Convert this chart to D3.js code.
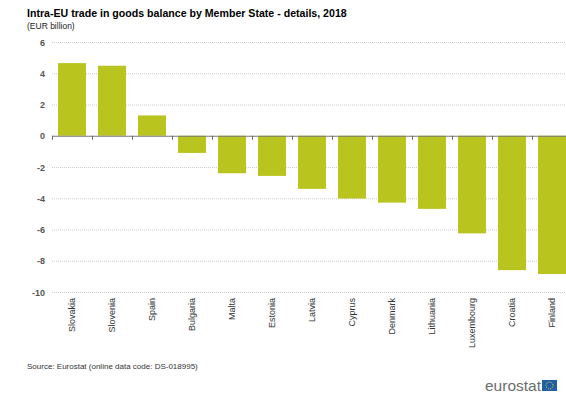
<!DOCTYPE html>
<html>
  <head>
    <meta charset="utf-8">
    <title>Intra-EU trade balance</title>
    <style>
      body { margin: 0; background: #fff; }
      svg { font-family: Arial, "Liberation Sans", sans-serif; display: block; }
    </style>
  </head>
  <body>
    <div id="chart"></div>
    <script src="https://cdn.jsdelivr.net/npm/d3@7"></script>
    <script>
      (function(d3) {
        'use strict';
        var countries = ['Slovakia', 'Slovenia', 'Spain', 'Bulgaria', 'Malta', 'Estonia', 'Latvia',
          'Cyprus', 'Denmark', 'Lithuania', 'Luxembourg', 'Croatia', 'Finland'];
        var balance = [4.65, 4.48, 1.3, -1.1, -2.4, -2.57, -3.4, -4.02, -4.28, -4.68, -6.25, -8.6, -8.85];
        var yTicks = [6, 4, 2, 0, -2, -4, -6, -8, -10];

        var width = 566, height = 395;
        var svg = d3.select('#chart').append('svg')
          .attr('width', width).attr('height', height);

        var x = d3.scaleBand().domain(countries).range([52, 572]).paddingInner(0.3).paddingOuter(0.15);
        var y = d3.scaleLinear().domain([-10, 6]).range([292, 42]);

        svg.append('text').attr('x', 27).attr('y', 17)
          .attr('font-size', 10.6).attr('font-weight', 'bold').attr('fill', '#000')
          .text('Intra-EU trade in goods balance by Member State - details, 2018');
        svg.append('text').attr('x', 27).attr('y', 28.5)
          .attr('font-size', 8.5).attr('fill', '#222')
          .text('(EUR billion)');

        // grid lines
        svg.selectAll('line.grid').data(yTicks.filter(function(d) { return d !== 0; }))
          .enter().append('line').attr('class', 'grid')
          .attr('x1', 52).attr('x2', 566)
          .attr('y1', function(d) { return y(d) + 0.5; })
          .attr('y2', function(d) { return y(d) + 0.5; })
          .attr('stroke', '#ccc').attr('stroke-dasharray', '1,1');

        svg.selectAll('text.ytick').data(yTicks).enter().append('text')
          .attr('class', 'ytick')
          .attr('x', 45).attr('y', function(d) { return y(d) + 3.5; })
          .attr('text-anchor', 'end').attr('font-size', 9).attr('font-weight', 'bold').attr('fill', '#555')
          .text(function(d) { return d; });

        svg.selectAll('rect.bar').data(balance).enter().append('rect')
          .attr('class', 'bar')
          .attr('x', function(d, i) { return x(countries[i]); })
          .attr('width', x.bandwidth())
          .attr('y', function(d) { return y(Math.max(0, d)); })
          .attr('height', function(d) { return Math.abs(y(d) - y(0)); })
          .attr('fill', '#b9c41f');

        // zero line and ticks
        svg.append('line').attr('x1', 52).attr('x2', 566)
          .attr('y1', y(0) + 0.5).attr('y2', y(0) + 0.5)
          .attr('stroke', '#777').attr('stroke-width', 1);
        var step = x.step();
        svg.selectAll('line.xtick').data(d3.range(countries.length + 1)).enter().append('line')
          .attr('class', 'xtick')
          .attr('x1', function(i) { return 52 + i * step + 0.5; })
          .attr('x2', function(i) { return 52 + i * step + 0.5; })
          .attr('y1', y(0)).attr('y2', y(0) + 4)
          .attr('stroke', '#666');

        svg.selectAll('text.xlab').data(countries).enter().append('text')
          .attr('class', 'xlab')
          .attr('transform', function(d) {
            return 'translate(' + (x(d) + x.bandwidth() / 2 + 3) + ',298) rotate(-90)';
          })
          .attr('text-anchor', 'end').attr('font-size', 9).attr('fill', '#333')
          .text(function(d) { return d; });

        svg.append('text').attr('x', 27).attr('y', 369)
          .attr('font-size', 8).attr('fill', '#333')
          .text('Source: Eurostat (online data code: DS-018995)');

        // logo
        svg.append('text').attr('x', 541).attr('y', 391)
          .attr('text-anchor', 'end').attr('font-size', 15.5).attr('fill', '#6d6d6d')
          .text('eurostat');
        svg.append('rect').attr('x', 542).attr('y', 380).attr('width', 15).attr('height', 11)
          .attr('fill', '#1f5fa8');
        svg.append('circle').attr('cx', 549.5).attr('cy', 385.5).attr('r', 3.5)
          .attr('fill', 'none').attr('stroke', '#f2d21a').attr('stroke-width', 1).attr('stroke-dasharray', '1,1');
      })(window.d3);
    </script>
  </body>
</html>
